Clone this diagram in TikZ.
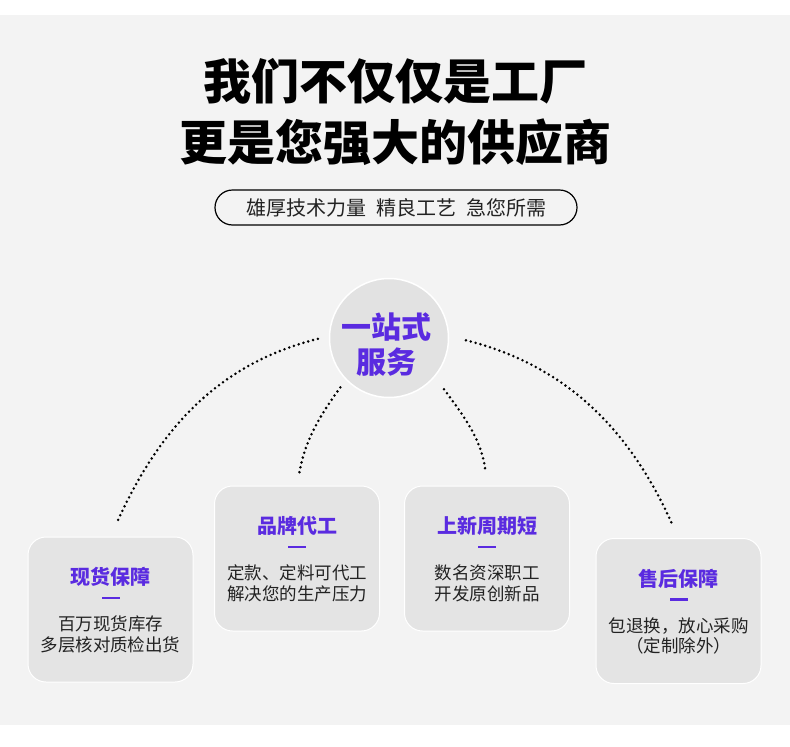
\documentclass[tikz,border=0pt]{standalone}
\usepackage{fontspec}
\setmainfont{Noto Sans CJK SC}
\newfontfamily\heavyfont{Noto Sans CJK SC Black}
\usepackage{xcolor}
\usetikzlibrary{positioning,shapes.geometric}

\definecolor{bgGray}{HTML}{F3F3F3}
\definecolor{cardGray}{HTML}{E4E4E4}
\definecolor{hubGray}{HTML}{E2E2E2}
\definecolor{brandPurple}{HTML}{5A2BE0}
\definecolor{bodyGray}{HTML}{222222}

\begin{document}
\begin{tikzpicture}[x=1pt,y=1pt,
  headline/.style={font=\heavyfont\fontsize{48}{56}\selectfont,inner sep=0pt},
  pill/.style={draw=black,line width=1.2pt,rounded corners=17.5pt,minimum width=362pt,minimum height=35pt,inner sep=0pt,text=bodyGray,font=\fontsize{20}{24}\selectfont},
  hub/.style={circle,fill=hubGray,draw=white,line width=1.5pt,minimum size=119pt,inner sep=0pt,outer sep=0pt},
  hubtext/.style={text=brandPurple,align=center,font=\heavyfont\fontsize{30}{35}\selectfont,inner sep=0pt},
  card/.style={draw=white,line width=1pt,fill=cardGray,rounded corners=18pt,minimum width=165pt,minimum height=145pt,inner sep=0pt,outer sep=0pt},
  cardtitle/.style={text=brandPurple,font=\heavyfont\fontsize{20}{24}\selectfont,inner sep=0pt},
  bar/.style={fill=brandPurple,minimum width=18pt,minimum height=2.2pt,inner sep=0pt},
  cardtext/.style={text=bodyGray,align=center,font=\fontsize{17.5}{20.5}\selectfont,inner sep=0pt},
  dotline/.style={line width=2.8pt,line cap=round,dash pattern=on 0pt off 5pt}]
\fill[white] (0,0) rectangle (790,-747);
\fill[bgGray] (0,-15) rectangle (790,-725);
\useasboundingbox (0,0) rectangle (790,-747);

\node[headline] (head1) at (395,-81) {我们不仅仅是工厂};
\node[headline] (head2) at (395,-142) {更是您强大的供应商};
\node[pill] (slogan) at (396,-207.5) {雄厚技术力量\hspace{10pt}精良工艺\hspace{10pt}急您所需};

\node[hub] (hub) at (389,-338) {};
\node[hubtext] (hubLabel) at ([xshift=-2.5pt,yshift=-7pt]hub.center) {一站式\\服务};

\node[card] (stock) at (110.5,-609.5) {};
\node[card] (oem) at (297,-558.5) {};
\node[card] (fresh) at (487,-558.5) {};
\node[card] (after) at (678.5,-611) {};

\node[cardtitle] (stockTitle) at ([yshift=-40pt]stock.north) {现货保障};
\node[bar] (stockBar) at ([yshift=-21pt]stockTitle.center) {};
\node[cardtext] (stockText) at ([yshift=-36.5pt]stockBar.center) {百万现货库存\\多层核对质检出货};

\node[cardtitle] (oemTitle) at ([yshift=-40pt]oem.north) {品牌代工};
\node[bar] (oemBar) at ([yshift=-21pt]oemTitle.center) {};
\node[cardtext] (oemText) at ([yshift=-36.5pt]oemBar.center) {定款、定料可代工\\解决您的生产压力};

\node[cardtitle] (freshTitle) at ([yshift=-40pt]fresh.north) {上新周期短};
\node[bar] (freshBar) at ([yshift=-21pt]freshTitle.center) {};
\node[cardtext] (freshText) at ([yshift=-36.5pt]freshBar.center) {数名资深职工\\开发原创新品};

\node[cardtitle] (afterTitle) at ([yshift=-40pt]after.north) {售后保障};
\node[bar] (afterBar) at ([yshift=-21pt]afterTitle.center) {};
\node[cardtext] (afterText) at ([yshift=-36.5pt]afterBar.center) {包退换，放心采购\\（定制除外）};

\draw[dotline,shorten <=12pt,shorten >=14pt] (hub.178) to[out=194,in=66] (stock.north);
\draw[dotline,shorten <=10pt,shorten >=14pt] (hub.224) to[out=234,in=80] (oem.north);
\draw[dotline,shorten <=16pt,shorten >=14pt] (hub.320) to[out=-54,in=96] (fresh.north);
\draw[dotline,shorten <=18pt,shorten >=16pt] (hub.2) to[out=-14,in=114] (after.north);
\end{tikzpicture}
\end{document}
